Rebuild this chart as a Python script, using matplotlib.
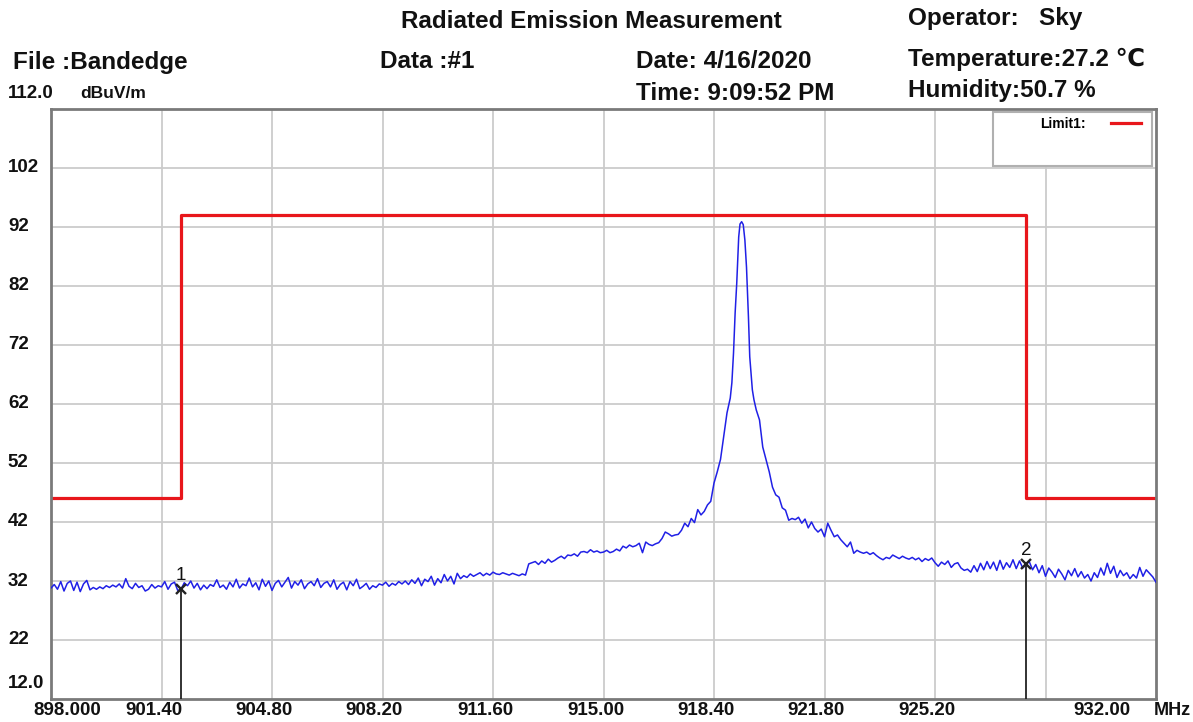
import numpy as np
import matplotlib
matplotlib.use("Agg")
import matplotlib.pyplot as plt
from matplotlib.patches import Rectangle
from matplotlib.lines import Line2D

plt.rcParams["font.family"] = ["Liberation Sans", "DejaVu Sans"]

# -----------------------------
# Data
# -----------------------------
F_START, F_STOP = 898.0, 932.0
Y_MIN, Y_MAX = 12.0, 112.0

# trace below the carrier: 898.0 .. 918.8 MHz, 0.1 MHz steps
low_start, low_step = 898.0, 0.1
low_level = [
    30.8, 31.4, 30.6, 31.9, 30.3, 31.6, 32.0, 30.4, 31.8, 30.2,
    31.5, 32.1, 30.5, 30.9, 30.6, 31.0, 30.7, 31.2, 30.9, 31.3,
    31.0, 31.5, 30.8, 32.4, 31.1, 30.7, 31.6, 30.9, 31.2, 30.3,
    30.6, 31.4, 30.8, 31.2, 31.0, 31.9, 30.6, 31.5, 31.8, 30.4,
    30.6, 31.7, 31.2, 32.0, 30.8, 31.6, 30.5, 31.3, 30.7, 31.4,
    31.1, 32.2, 30.9, 31.3, 30.6, 31.8, 31.0, 32.3, 30.8, 31.5,
    31.2, 32.5, 31.0, 31.7, 30.5, 32.3, 31.1, 32.0, 30.4, 31.6,
    32.1, 31.0, 31.8, 32.6, 30.8, 31.9, 31.3, 32.2, 30.7, 31.5,
    31.9, 31.2, 32.4, 30.9, 31.6, 31.9, 31.0, 32.2, 30.6, 31.4,
    31.8, 30.5, 31.9, 31.2, 32.3, 30.7, 31.1, 31.6, 30.6, 31.2,
    30.9, 31.5, 31.3, 31.8, 31.1, 31.6, 31.3, 31.9, 31.5, 32.0,
    31.4, 32.2, 31.6, 32.5, 31.2, 32.3, 31.9, 32.8, 31.3, 32.4,
    31.7, 33.1, 32.0, 32.8, 31.5, 33.3, 32.4, 32.9, 32.6, 33.2,
    32.8, 33.1, 33.4, 32.9, 33.3, 33.0, 33.5, 33.2, 33.1, 33.4,
    33.2, 33.0, 33.3, 33.1, 32.9, 33.2, 33.0, 34.9, 35.1, 35.3,
    34.8, 35.4, 35.0, 35.7, 35.2, 35.5, 35.9, 36.2, 35.8, 36.4,
    36.3, 36.6, 36.2, 36.9, 37.0, 36.8, 37.3, 36.9, 37.1, 36.8,
    36.9, 37.2, 36.8, 37.0, 37.4, 37.1, 37.9, 37.6, 38.1, 37.8,
    38.0, 38.4, 36.8, 38.6, 38.2, 38.0, 38.3, 38.5, 39.2, 40.3,
    40.0, 39.6, 39.8, 39.9, 40.6, 41.8, 41.2, 42.6, 41.9, 44.1,
    43.2, 43.8, 44.9, 45.5, 48.6, 50.5, 52.6, 56.5, 60.5,
]

# carrier peak, irregular steps
peak_freq = [918.90, 918.95, 919.00, 919.05, 919.10, 919.16, 919.20, 919.25, 919.30,
             919.35, 919.40, 919.46, 919.50, 919.58, 919.63, 919.70, 919.80, 919.90]
peak_level = [63.0, 65.6, 70.6, 77.4, 82.5, 90.3, 92.5, 92.9, 92.4,
              89.8, 85.2, 76.7, 70.0, 64.4, 62.7, 61.0, 59.3, 54.7]

# trace above the carrier: 920.0 .. 932.0 MHz, 0.1 MHz steps
high_start, high_step = 920.0, 0.1
high_level = [
    52.6, 50.5, 47.9, 46.6, 46.2, 44.4, 44.0, 42.3, 42.6, 42.4,
    42.8, 41.8, 42.5, 41.0, 42.0, 40.9, 40.3, 40.8, 39.5, 41.8,
    40.6, 39.5, 39.8, 39.0, 38.4, 37.8, 38.6, 36.7, 37.2, 36.9,
    36.7, 36.9, 36.5, 36.8, 36.3, 35.9, 35.6, 36.0, 35.8, 36.4,
    36.1, 35.8, 36.2, 35.9, 35.7, 36.0, 35.6, 35.9, 35.3, 35.8,
    35.5, 35.9, 35.1, 34.5, 35.2, 34.8, 35.4, 34.3, 34.9, 35.1,
    34.2, 33.8, 34.0, 33.5, 34.6, 33.6, 35.0, 33.9, 35.3, 34.1,
    35.2, 33.8, 35.5, 34.0, 35.1, 34.3, 35.6, 34.1, 35.4, 34.2,
    34.8, 35.3, 33.9, 34.8, 33.4, 34.6, 32.8, 34.2, 33.5, 32.6,
    34.0, 33.2, 32.2, 33.8, 32.9, 34.1, 32.7, 33.6, 32.5, 33.1,
    32.0, 33.4, 32.6, 34.2, 33.0, 35.0, 33.3, 34.5, 32.6, 33.8,
    32.9, 33.4, 32.4, 33.1, 32.5, 34.3, 32.8, 33.9, 33.3, 32.7,
    31.8,
]

# limit line (dBuV/m)
limit_freq = [898.0, 902.0, 902.0, 928.0, 928.0, 932.0]
limit_level = [46.0, 46.0, 94.0, 94.0, 46.0, 46.0]

# markers
marker_freq = [902.0, 928.0]
marker_level = [30.6, 34.8]
marker_names = ["1", "2"]

x_ticks = [898.0, 901.4, 904.8, 908.2, 911.6, 915.0, 918.4, 921.8, 925.2, 928.6, 932.0]
x_tick_labels = ["898.000", "901.40", "904.80", "908.20", "911.60", "915.00",
                 "918.40", "921.80", "925.20", "", "932.00"]
y_ticks = [22, 32, 42, 52, 62, 72, 82, 92, 102]


def build_trace():
    low_f = low_start + low_step * np.arange(len(low_level))
    high_f = high_start + high_step * np.arange(len(high_level))
    f = np.concatenate([low_f, peak_freq, high_f])
    v = np.concatenate([low_level, peak_level, high_level])
    return f, v


def main():
    W, H = 1193, 722
    fig = plt.figure(figsize=(W / 100, H / 100), dpi=100)
    ax = fig.add_axes([51 / W, 1 - 699 / H, (1156 - 51) / W, (699 - 109) / H])

    ax.set_xlim(F_START, F_STOP)
    ax.set_ylim(Y_MIN, Y_MAX)

    # grid
    for x in x_ticks[1:-1]:
        ax.axvline(x, color="#cbcbcb", lw=1.3, zorder=0)
    for y in y_ticks:
        ax.axhline(y, color="#cbcbcb", lw=1.3, zorder=0)

    for s in ax.spines.values():
        s.set_color("#7a7a7a")
        s.set_linewidth(2.0)
    ax.set_xticks([])
    ax.set_yticks([])

    # trace + limit
    f, v = build_trace()
    ax.plot(f, v, color="#2020e6", lw=1.1, zorder=3)
    ax.plot(limit_freq, limit_level, color="#e8161b", lw=2.3, zorder=2)

    # markers
    for mf, ml, name in zip(marker_freq, marker_level, marker_names):
        ax.plot([mf, mf], [Y_MIN, ml], color="#222222", lw=1.3, zorder=4)
        ax.plot(mf, ml, marker="x", color="#222222", ms=7.5, mew=1.7, zorder=5)
        ax.annotate(name, xy=(mf, ml), xytext=(0, 5), textcoords="offset pixels",
                    ha="center", va="bottom", fontsize=13.5, color="#111111")

    # y labels
    lab = dict(fontsize=13.5, fontweight="bold", color="#111111")
    ytr = ax.get_yaxis_transform()
    for y in y_ticks:
        ax.text(-0.039, y, str(y), transform=ytr, ha="left", va="center", **lab)
    ax.annotate("12.0", xy=(-0.039, Y_MIN), xycoords=ytr, xytext=(0, 16),
                textcoords="offset pixels", ha="left", va="center", **lab)
    ax.annotate("112.0", xy=(-0.039, Y_MAX), xycoords=ytr, xytext=(0, 15),
                textcoords="offset pixels", ha="left", va="center", **lab)
    ax.annotate("dBuV/m", xy=(-0.039, Y_MAX), xycoords=ytr, xytext=(72, 15),
                textcoords="offset pixels", ha="left", va="center",
                fontsize=12.5, fontweight="bold", color="#111111")

    # x labels
    xtr = ax.get_xaxis_transform()
    for x, t in zip(x_ticks, x_tick_labels):
        if not t:
            continue
        dx = -8
        if x == F_START:
            dx = 16
        elif x == F_STOP:
            dx = -54
        ax.annotate(t, xy=(x, 0), xycoords=xtr, xytext=(dx, -3),
                    textcoords="offset pixels", ha="center", va="top", **lab)
    fig.text(1191 / W, 1 - 702 / H, "MHz", ha="right", va="top",
             fontsize=13, fontweight="bold", color="#111111")

    # legend box
    ax.add_patch(Rectangle(((993 - 51) / 1105, (699 - 166) / 590), 159 / 1105, 54 / 590,
                           transform=ax.transAxes, facecolor="white",
                           edgecolor="#b0b0b0", lw=1.5, zorder=6))
    ax.text((1040 - 51) / 1105, (699 - 124) / 590, "Limit1:", transform=ax.transAxes,
            ha="left", va="center", fontsize=10, fontweight="bold", zorder=7)
    ax.add_line(Line2D([(1111 - 51) / 1105, (1141 - 51) / 1105],
                       [(699 - 123) / 590] * 2, transform=ax.transAxes,
                       color="#e8161b", lw=2.3, zorder=7))

    # header
    hdr = dict(fontsize=17.5, fontweight="bold", color="#111111", va="center")
    fig.text(591 / W, 1 - 21 / H, "Radiated Emission Measurement", ha="center", **hdr)
    fig.text(13 / W, 1 - 62 / H, "File :Bandedge", ha="left", **hdr)
    fig.text(380 / W, 1 - 62 / H, "Data :#1", ha="left", **hdr)
    fig.text(636 / W, 1 - 62 / H, "Date: 4/16/2020", ha="left", **hdr)
    fig.text(636 / W, 1 - 93 / H, "Time: 9:09:52 PM", ha="left", **hdr)
    fig.text(908 / W, 1 - 18 / H, "Operator:   Sky", ha="left", **hdr)
    fig.text(908 / W, 1 - 59 / H, "Temperature:27.2 ℃", ha="left", **hdr)
    fig.text(908 / W, 1 - 91 / H, "Humidity:50.7 %", ha="left", **hdr)

    fig.savefig("out.png", dpi=100)
    plt.close(fig)


if __name__ == "__main__":
    main()
